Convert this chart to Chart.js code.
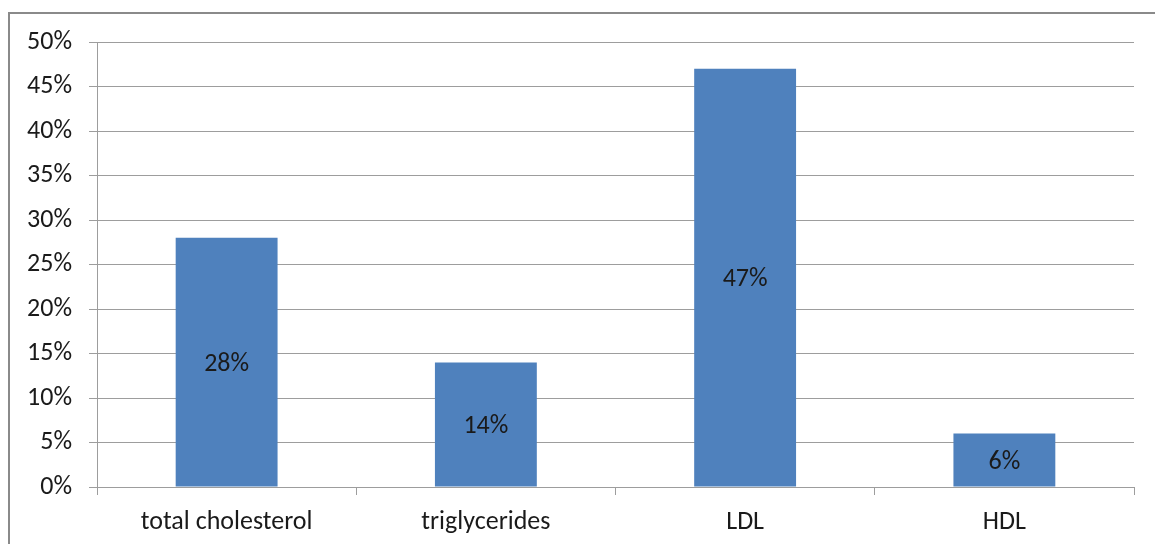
<!DOCTYPE html>
<html>
<head>
<meta charset="utf-8">
<script src="https://cdn.jsdelivr.net/npm/chart.js@4/dist/chart.umd.min.js"></script>
<style>
  html, body { margin: 0; padding: 0; background: #fff; }
  body { width: 1155px; height: 544px; position: relative; overflow: hidden; }
  #frame { position: absolute; left: 8px; top: 12px; width: 1200px; height: 600px;
           border: 2px solid #8a8a8a; box-sizing: border-box; }
  #wrap { position: absolute; left: 0; top: 0; width: 1155px; height: 544px; }
</style>
</head>
<body>
<div id="frame"></div>
<div id="wrap"><canvas id="c" width="1155" height="544"></canvas></div>
<script>
const categories = ['total cholesterol', 'triglycerides', 'LDL', 'HDL'];
const percentages = [28, 14, 47, 6];
const yTicks = [0, 5, 10, 15, 20, 25, 30, 35, 40, 45, 50];

const FONT = 'Carlito, Lato, "Open Sans", sans-serif';
const TEXT = '#1a1a1a';
const GRID = '#9d9d9d';

// Writes each bar's value in the vertical middle of the bar
const valueLabels = {
  id: 'valueLabels',
  afterDatasetsDraw(chart) {
    const ctx = chart.ctx;
    const meta = chart.getDatasetMeta(0);
    ctx.save();
    ctx.font = '26px ' + FONT;
    ctx.fillStyle = TEXT;
    ctx.textAlign = 'center';
    ctx.textBaseline = 'middle';
    meta.data.forEach((bar, i) => {
      const mid = (bar.y + bar.base) / 2;
      ctx.fillText(percentages[i] + '%', bar.x, mid + 2);
    });
    ctx.restore();
  }
};

new Chart(document.getElementById('c'), {
  type: 'bar',
  data: {
    labels: categories,
    datasets: [{
      data: percentages,
      backgroundColor: '#4f81bd',
      borderWidth: 0,
      barPercentage: 0.393,
      categoryPercentage: 1
    }]
  },
  options: {
    responsive: false,
    animation: false,
    layout: { padding: { top: 42, right: 21, left: 0, bottom: 0 } },
    plugins: { legend: { display: false }, tooltip: { enabled: false } },
    scales: {
      x: {
        offset: true,
        afterFit(s) { s.height = 57; },
        grid: { drawOnChartArea: false, drawTicks: true, tickLength: 8, color: GRID, offset: true },
        border: { color: GRID, width: 1 },
        ticks: { color: TEXT, font: { family: FONT, size: 26 }, padding: 12 }
      },
      y: {
        min: 0,
        max: 50,
        afterFit(s) { s.width = 97; },
        afterBuildTicks(s) { s.ticks = yTicks.map(v => ({ value: v })); },
        grid: { color: GRID, tickLength: 8, drawTicks: true },
        border: { color: GRID, width: 1 },
        ticks: {
          color: TEXT,
          font: { family: FONT, size: 26 },
          padding: 17,
          callback: v => v + '%'
        }
      }
    }
  },
  plugins: [valueLabels]
});
</script>
</body>
</html>
